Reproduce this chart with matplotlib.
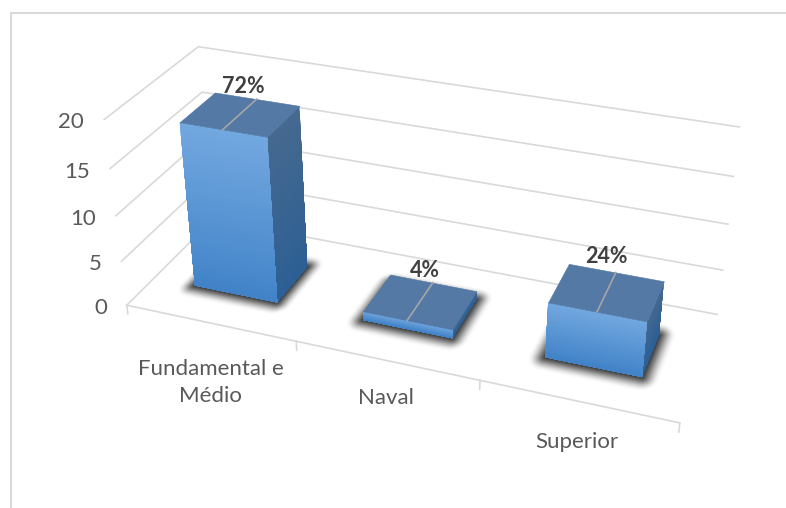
import numpy as np
import matplotlib
matplotlib.use("Agg")
import matplotlib.pyplot as plt
from matplotlib.colors import to_rgb
from matplotlib.lines import Line2D
from mpl_toolkits.mplot3d import proj3d
from mpl_toolkits.mplot3d.art3d import Poly3DCollection

plt.rcParams['font.family'] = ['Lato', 'DejaVu Sans']

categories = ["Fundamental e\nMédio", "Naval", "Superior"]
values = [18, 1, 6]
percent_labels = ["72%", "4%", "24%"]
z_ticks = [0, 5, 10, 15, 20]

W, H = 786, 508
GRID = '#d9d9d9'
TEXT = '#595959'

# view fitted against the reference
ELEV, AZIM, ROLL, FOCAL = 29.498, -69.6133, 0.1841, 0.4246
BOX = (2.7136, 0.9033, 1)
HALF_W, HALF_D = 0.2494, 0.1967
SCALE, CX, CY = 3404.37, 420.03, 219.92

# label offsets in pixels from the point they hang on
CAT_OFFSET = [(1, -60), (0, -38), (-1, -41)]
VALUE_OFFSET = [(3, 27), (5, 31), (0, 35)]


def blend(c1, c2, t):
    a, b = np.array(to_rgb(c1)), np.array(to_rgb(c2))
    return tuple(a + (b - a) * t)


def add_gradient_face(ax, corners, h, top, bottom, zorder, n=40):
    # painted tallest first so no seams show between the bands
    (x0, y0), (x1, y1) = corners
    for i in range(n, 0, -1):
        z1 = h * i / n
        col = blend(bottom, top, (i - 0.5) / n)
        poly = [(x0, y0, 0), (x1, y1, 0), (x1, y1, z1), (x0, y0, z1)]
        ax.add_collection3d(Poly3DCollection([poly], facecolor=col, edgecolor='none',
                                             zorder=zorder))


def rounded_rect(x0, x1, y0, y1, rx, ry, n=8):
    pts = []
    corners = [(x1 - rx, y1 - ry, 0), (x0 + rx, y1 - ry, 90), (x0 + rx, y0 + ry, 180), (x1 - rx, y0 + ry, 270)]
    for cx, cy, start in corners:
        for a in np.radians(np.linspace(start, start + 90, n)):
            pts.append((cx + rx * np.cos(a), cy + ry * np.sin(a), 0))
    return pts


def add_shadow(ax, x0, x1, y0, y1, zorder, layers=24):
    # outer layers stay faint so the rim fades out like a blur
    for i in range(layers):
        t = (layers - i) / layers
        dx, dy = 0.085 * t, 0.12 * t
        alpha = 0.008 + 0.11 * (1 - t) ** 1.3
        poly = rounded_rect(x0 - dx, x1 + dx, y0 - dy, y1 + dy, dx + 0.001, dy + 0.001)
        ax.add_collection3d(Poly3DCollection([poly], facecolor=(0, 0, 0, alpha),
                                             edgecolor='none', zorder=zorder))


def label(ax, x, y, z, text, offset, **kw):
    # 3d point to 2d axes data, so the text lands on the projected position
    px, py, _ = proj3d.proj_transform(x, y, z, ax.get_proj())
    ax.annotate(text, (px, py), xytext=offset, textcoords='offset pixels',
                annotation_clip=False, zorder=20, **kw)


fig = plt.figure(figsize=(W / 100, H / 100), dpi=100)
ax = fig.add_axes([0, 0, 1, 1], projection='3d', computed_zorder=False)
ax.set_xlim(0, 3)
ax.set_ylim(0, 1)
ax.set_zlim(0, 20)
ax.view_init(ELEV, AZIM, ROLL)
ax.set_proj_type('persp', focal_length=FOCAL)
ax.set_box_aspect(BOX)
ax.set_axis_off()

# put the 3d box where it sits in the picture
vx0, vy0, vx1, vy1 = ax.viewLim.extents
left = CX + SCALE * vx0
bottom = H - (CY - SCALE * vy0)
ax.set_position([left / W, bottom / H, SCALE * (vx1 - vx0) / W, SCALE * (vy1 - vy0) / H])

# grid on the two walls
for z in z_ticks:
    ax.plot([0, 0, 3], [0, 1, 1], [z, z, z], color=GRID, lw=1.2, zorder=1, clip_on=False)
    label(ax, 0, 0, z, str(z), (-20, -3), ha='right', va='center', fontsize=16, color=TEXT)

# floor front edge and ticks
ax.plot([0, 3], [0, 0], [0, 0], color=GRID, lw=1.2, zorder=1, clip_on=False)
for x in range(4):
    ax.plot([x, x], [0, 0], [0, -1], color=GRID, lw=1.2, zorder=1, clip_on=False)

for i, (h, lab) in enumerate(zip(values, percent_labels)):
    c = i + 0.5
    x0, x1 = c - HALF_W, c + HALF_W
    y0, y1 = 0.5 - HALF_D, 0.5 + HALF_D
    z = 3 + i * 2
    add_shadow(ax, x0, x1, y0, y1, z)
    add_gradient_face(ax, [(x1, y0), (x1, y1)], h, '#46698f', '#2c5f94', z + 0.1)
    add_gradient_face(ax, [(x0, y0), (x1, y0)], h, '#73a8e0', '#4183c8', z + 0.2)
    top_face = [(x0, y0, h), (x1, y0, h), (x1, y1, h), (x0, y1, h)]
    ax.add_collection3d(Poly3DCollection([top_face], facecolor='#5479a5',
                                         edgecolor='#5479a5', linewidth=0.4, zorder=z + 0.3))
    ax.plot([c, c], [y0, y1], [h, h], color='#a6a6a6', lw=1.2, zorder=z + 0.4)
    label(ax, c, 0.5, h, lab, VALUE_OFFSET[i], ha='center', va='center', fontsize=15.5,
          fontweight='bold', color='#404040')

for i, name in enumerate(categories):
    label(ax, i + 0.5, 0, 0, name, CAT_OFFSET[i], ha='center', va='center', fontsize=16,
          color=TEXT, linespacing=1.45)

# chart frame, only top and left show
fig.add_artist(Line2D([10.5 / W, 10.5 / W, 1], [0, (H - 13) / H, (H - 13) / H],
                      color='#d9d9d9', lw=1.5, solid_joinstyle='miter'))

fig.savefig('out.png', dpi=100)
